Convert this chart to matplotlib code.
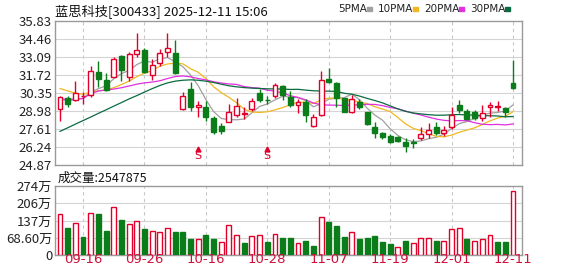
import numpy as np
import matplotlib
matplotlib.use('Agg')
import matplotlib.pyplot as plt

plt.rcParams['font.family'] = ['Noto Sans CJK SC', 'DejaVu Sans']

# daily candles, 2025-09-11 .. 2025-12-11
opens = [29.17, 30.00, 29.80, 30.12, 30.18, 31.96, 31.32, 31.60, 33.17, 31.60,
         33.35, 33.60, 31.70, 32.67, 33.50, 33.42, 29.12, 30.64, 29.32, 29.32,
         28.44, 27.86, 28.18, 28.69, 28.77, 29.12, 30.34, 29.83, 30.13, 30.89,
         30.08, 29.45, 29.63, 27.86, 28.69, 31.40, 31.10, 29.96, 28.92, 29.63,
         28.92, 27.73, 27.27, 27.10, 26.97, 26.59, 26.61, 26.89, 27.22, 27.73,
         27.30, 27.73, 29.42, 28.99, 28.92, 28.41, 29.25, 29.30, 29.20, 31.10]
closes = [30.08, 29.50, 30.34, 30.15, 32.03, 31.40, 30.59, 32.97, 32.11, 33.30,
          33.60, 31.96, 32.49, 33.42, 33.80, 31.91, 30.13, 29.32, 29.40, 28.49,
          27.35, 27.48, 28.87, 29.37, 28.79, 29.75, 29.85, 29.80, 30.94, 30.18,
          29.42, 29.63, 28.69, 28.56, 31.32, 31.20, 29.96, 28.92, 29.88, 29.25,
          27.98, 27.30, 26.97, 26.64, 26.72, 26.34, 26.56, 27.22, 27.53, 27.27,
          27.53, 28.69, 29.07, 28.36, 28.42, 28.82, 29.42, 29.32, 28.94, 30.72]
highs = [30.10, 30.13, 31.27, 30.45, 32.41, 32.79, 31.86, 33.12, 33.22, 33.48,
         34.94, 33.80, 32.97, 33.73, 34.94, 34.36, 30.44, 31.15, 29.75, 29.75,
         28.62, 28.06, 29.50, 30.00, 29.25, 30.00, 30.64, 30.15, 31.10, 30.94,
         30.51, 29.88, 29.88, 28.74, 32.03, 32.29, 31.15, 30.00, 30.18, 29.93,
         28.92, 28.11, 27.35, 27.22, 27.05, 26.89, 26.82, 27.73, 28.06, 28.11,
         27.81, 29.25, 29.83, 29.12, 29.05, 29.42, 29.63, 29.72, 29.32, 32.87]
lows = [28.24, 29.32, 29.75, 29.55, 30.08, 30.77, 30.51, 31.53, 31.27, 31.27,
        33.10, 31.86, 31.35, 32.41, 33.10, 31.78, 29.07, 28.99, 28.56, 28.24,
        27.22, 27.22, 28.11, 28.54, 28.35, 28.99, 29.63, 29.50, 30.00, 29.83,
        29.32, 28.82, 28.18, 27.78, 28.62, 31.10, 29.25, 28.87, 28.79, 29.12,
        27.91, 26.92, 26.84, 26.54, 26.60, 25.89, 26.15, 26.79, 26.89, 27.15,
        27.05, 27.60, 28.82, 28.29, 28.30, 28.24, 28.49, 28.95, 28.49, 30.69]
prev_close = 29.60

ma5 = [29.90, 29.75, 29.85, 29.95, 30.42, 30.68, 30.90, 31.43, 31.82, 32.07,
       32.51, 32.79, 32.69, 32.95, 33.05, 32.72, 32.35, 31.72, 30.91, 29.85,
       28.94, 28.41, 28.32, 28.31, 28.37, 28.85, 29.33, 29.51, 29.83, 30.10,
       30.04, 29.99, 29.77, 29.30, 29.52, 29.88, 29.95, 29.99, 30.26, 29.84,
       29.20, 28.67, 28.28, 27.63, 27.12, 26.79, 26.65, 26.70, 26.87, 26.98,
       27.22, 27.65, 28.02, 28.18, 28.41, 28.67, 28.82, 28.87, 28.98, 29.44]
ma10 = [30.69, 30.51, 30.34, 30.26, 30.40, 30.52, 30.58, 30.75, 31.00, 31.25,
        31.60, 31.85, 32.06, 32.39, 32.56, 32.62, 32.57, 32.20, 31.93, 31.45,
        30.83, 30.38, 30.02, 29.61, 29.11, 28.90, 28.87, 28.92, 29.07, 29.24,
        29.45, 29.66, 29.64, 29.56, 29.81, 29.96, 29.97, 29.88, 29.78, 29.68,
        29.54, 29.31, 29.13, 28.94, 28.48, 28.00, 27.66, 27.49, 27.25, 27.05,
        27.01, 27.15, 27.36, 27.53, 27.70, 27.95, 28.23, 28.44, 28.58, 28.93]
ma20 = [29.88, 29.88, 29.88, 29.93, 30.30, 30.50, 30.58, 30.65, 30.75, 30.88,
        31.02, 31.12, 31.18, 31.28, 31.45, 31.60, 31.65, 31.58, 31.45, 31.35,
        31.21, 31.11, 31.04, 31.00, 30.84, 30.76, 30.72, 30.56, 30.50, 30.35,
        30.14, 30.02, 29.83, 29.59, 29.46, 29.43, 29.42, 29.40, 29.42, 29.46,
        29.49, 29.48, 29.39, 29.25, 29.15, 28.98, 28.81, 28.68, 28.51, 28.37,
        28.27, 28.23, 28.25, 28.24, 28.09, 27.97, 27.94, 27.96, 27.92, 27.99]
ma30 = [27.43, 27.70, 27.98, 28.25, 28.52, 28.80, 29.07, 29.35, 29.62, 29.90,
        30.15, 30.42, 30.68, 30.92, 31.12, 31.25, 31.32, 31.35, 31.32, 31.25,
        31.15, 31.02, 30.90, 30.82, 30.76, 30.72, 30.69, 30.67, 30.66, 30.65,
        30.62, 30.63, 30.57, 30.52, 30.50, 30.49, 30.47, 30.33, 30.26, 30.12,
        29.94, 29.78, 29.60, 29.37, 29.14, 28.95, 28.83, 28.76, 28.70, 28.66,
        28.66, 28.70, 28.71, 28.68, 28.67, 28.63, 28.62, 28.60, 28.54, 28.56]

# volume in 万 shares
volume = [164, 108, 128, 72, 168, 162, 96, 191, 140, 124,
          135, 104, 96, 92, 107, 90, 92, 64, 64, 80,
          64, 52, 120, 79, 49, 76, 80, 52, 84, 68,
          68, 48, 56, 36, 152, 132, 116, 72, 91, 64,
          68, 76, 52, 44, 31, 56, 48, 67, 67, 56,
          55, 103, 107, 64, 56, 64, 80, 52, 52, 254.79]

price_ticks = [24.87, 26.24, 27.61, 28.98, 30.35, 31.72, 33.09, 34.46, 35.83]
vol_ticks = [0, 68.6, 137, 206, 274]
vol_labels = ['0', '68.60万', '137万', '206万', '274万']
date_pos = [3, 11, 19, 27, 35, 43, 51, 59]
date_labels = ['09-16', '09-26', '10-16', '10-28', '11-07', '11-19', '12-01', '12-11']
signal_pos = [18, 27]

RED = '#e0002a'
GREEN = '#0a7d1a'
MA_COLORS = ['#a0a0a0', '#f0b820', '#e030e0', '#0b6b40']

n = len(closes)
x = np.arange(n)
o = np.array(opens); c = np.array(closes)
up = c >= o
pc = np.concatenate(([prev_close], c[:-1]))
vol_up = c >= pc

fig = plt.figure(figsize=(5.78, 2.76), dpi=100)
ax = fig.add_axes([55/578, 1-165/276, 467/578, 144/276])
axv = fig.add_axes([55/578, 1-255/276, 467/578, 69/276])

w = 0.64
for a in (ax, axv):
    a.set_xlim(-0.65, n - 1 + 1.17)
    for s in a.spines.values():
        s.set_color('#9a9a9a')
        s.set_linewidth(1.0)
    a.tick_params(length=0, labelsize=9.5, colors='#222222', pad=2)
    for p in date_pos:
        a.axvline(p, color='#c8c8c8', lw=0.8, ls=(0, (3, 3)), zorder=0)
    a.set_xticks([])

# price panel
ax.set_ylim(price_ticks[0], price_ticks[-1])
ax.set_yticks(price_ticks)
ax.set_yticklabels(['%.2f' % t for t in price_ticks])
for t in price_ticks[1:-1]:
    ax.axhline(t, color='#d4d4d4', lw=0.8, zorder=0)

for ma, col in zip([ma5, ma10, ma20, ma30], MA_COLORS):
    ax.plot(x, ma, color=col, lw=0.9, zorder=2)

for i in range(n):
    col = RED if up[i] else GREEN
    ax.vlines(x[i], lows[i], highs[i], color=col, lw=1.0, zorder=3)
    lo = min(o[i], c[i]); h = max(abs(c[i] - o[i]), 0.03)
    if up[i]:
        ax.bar(x[i], h, w, bottom=lo, facecolor='white', edgecolor=col, lw=1.0, zorder=4)
    else:
        ax.bar(x[i], h, w, bottom=lo, facecolor=col, edgecolor=col, lw=1.0, zorder=4)

for p in signal_pos:
    ax.plot(p, 26.05, marker='^', ms=3.5, color=RED, zorder=5)
    ax.text(p, 25.55, 'S', color=RED, fontsize=8, ha='center', va='center',
            family='DejaVu Sans', zorder=5)

# volume panel
axv.set_ylim(0, 274)
axv.set_yticks(vol_ticks)
axv.set_yticklabels(vol_labels)
for t in vol_ticks[1:-1]:
    axv.axhline(t, color='#d4d4d4', lw=0.8, zorder=0)
for i in range(n):
    if vol_up[i]:
        axv.bar(x[i], volume[i], w, facecolor='white', edgecolor=RED, lw=1.0, zorder=3)
    else:
        axv.bar(x[i], volume[i], w, facecolor=GREEN, edgecolor=GREEN, lw=1.0, zorder=3)
for p, lab in zip(date_pos, date_labels):
    axv.text(p, -16, lab, color='#d0103a', fontsize=9.5, ha='center', va='center',
             family='DejaVu Sans')

# header texts
fig.text(55/578, 1-11/276, '蓝思科技[300433] 2025-12-11 15:06', fontsize=9.5,
         va='center', ha='left', color='#111111')
fig.text(58/578, 1-178/276, '成交量:2547875', fontsize=9, va='center', ha='left',
         color='#111111')
lx = 338
for name, col in zip(['5PMA', '10PMA', '20PMA', '30PMA'], MA_COLORS):
    t = fig.text(lx/578, 1-9/276, name, fontsize=7.5, va='center', ha='left',
                 color='#222222', family='DejaVu Sans')
    tw = {'5PMA': 27, '10PMA': 33, '20PMA': 33, '30PMA': 33}[name]
    fig.patches.append(plt.Rectangle(((lx + tw + 2)/578, 1-10.5/276), 5/578, 3/276,
                                     transform=fig.transFigure, color=col))
    lx += tw + 13

fig.savefig('out.png', dpi=100)
